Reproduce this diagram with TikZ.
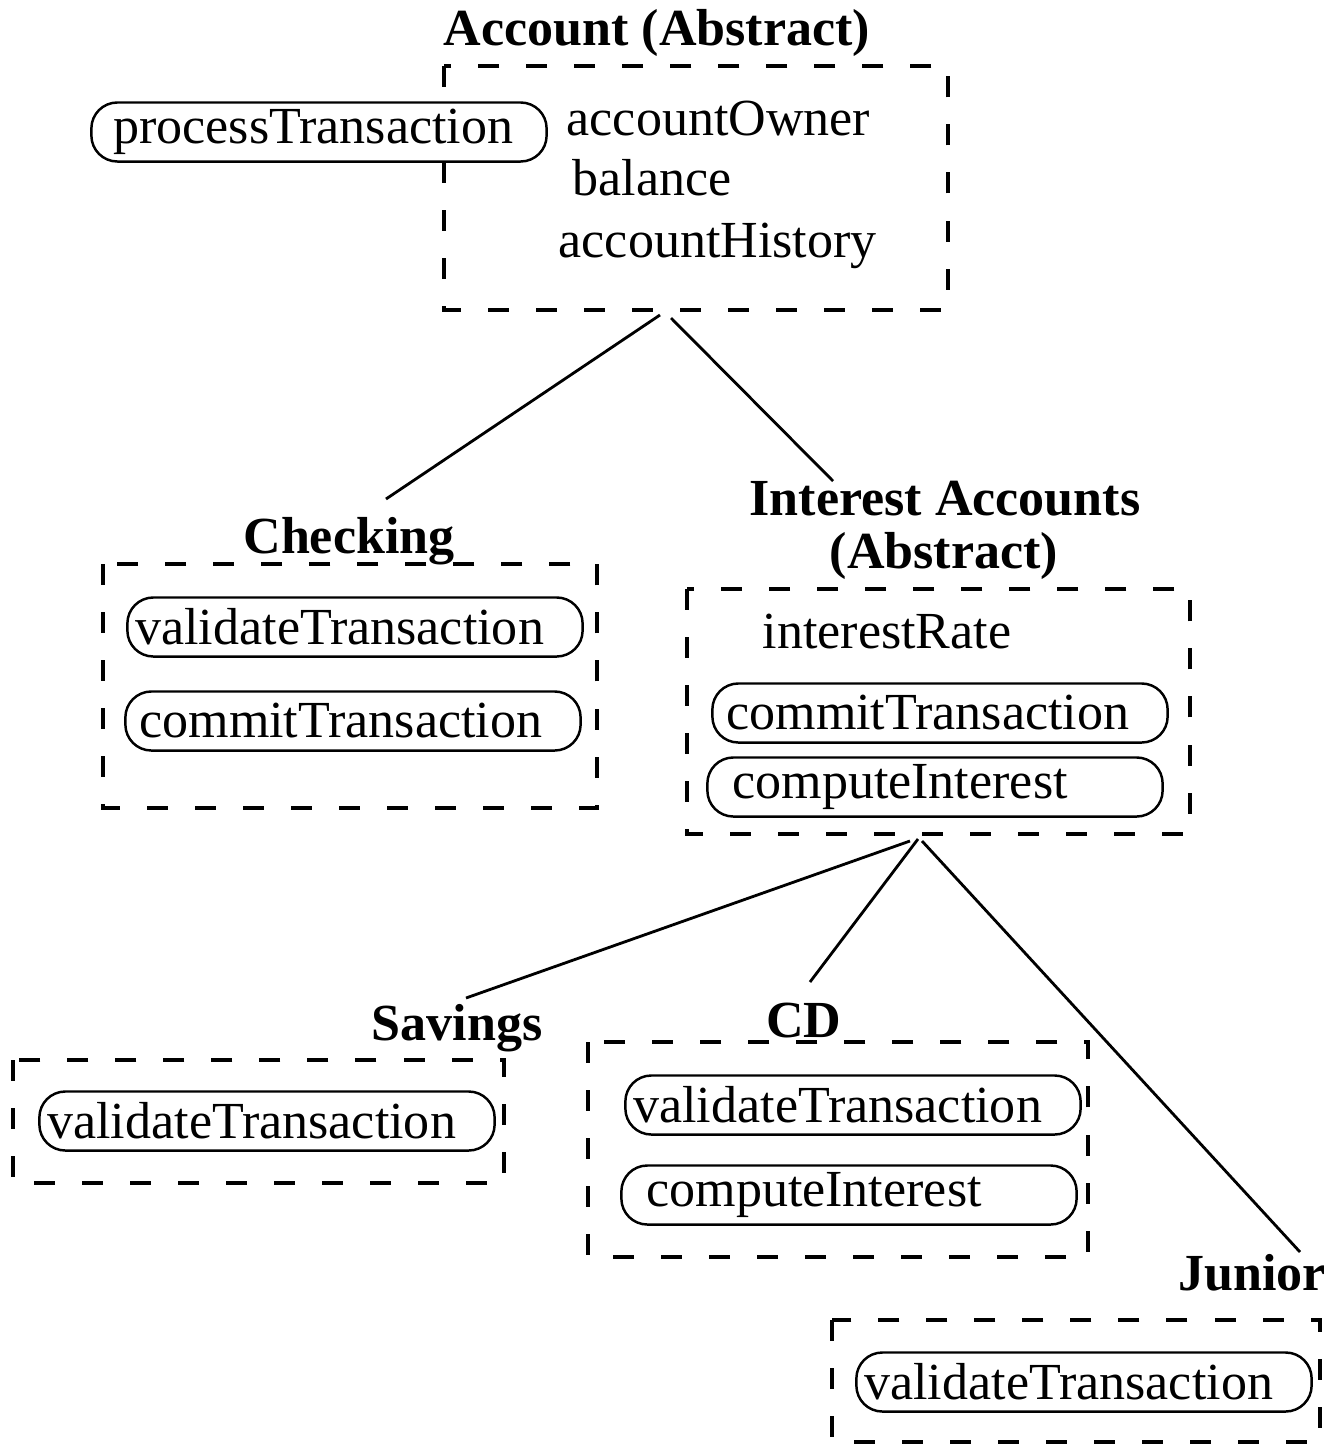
\documentclass[tikz,border=0pt]{standalone}
\usepackage{fontspec}
\setmainfont{Liberation Serif}
\usepackage{tikz}

\tikzset{
	dashbox/.style={line width=1.1pt, dash pattern=on 0.21cm off 0.27cm},
	method/.style={draw, fill=white, line width=0.7pt, rounded corners=0.26cm, minimum height=0.59cm, text width=4.27cm, inner xsep=0.14cm, inner ysep=0pt, align=left, font=\fontsize{14.8}{17}\selectfont},
	field/.style={anchor=base west, inner sep=0pt, font=\fontsize{14.8}{17}\selectfont},
	title/.style={anchor=base, inner sep=0pt, font=\fontsize{14.8}{17}\selectfont\bfseries},
	link/.style={line width=0.8pt}
}

\begin{document}
\begin{tikzpicture}[x=0.01cm, y=-0.01cm]
	\useasboundingbox (0,0) rectangle (1340,1445);
	%\draw [help lines, step=100] (0,0) grid (1340,1445);
	
	%ACCOUNT
	%box
	\draw[dashbox] (444,66) rectangle (948,310);
	\node[title] (acctitle) at (657,45) {Account (Abstract)};
	\node[method] (process) at (319,132) {\hspace*{0.08cm}processTransaction};
	\node[field] (owner) at (566,135) {accountOwner};
	\node[field] (balance) at (572,195) {balance};
	\node[field] (history) at (558,257) {accountHistory};
	
	
	%CHECKING
	%box
	\draw[dashbox] (103,564) rectangle (597,808);
	\node[title] (chktitle) at (349,553) {Checking};
	\node[method] (chkvalidate) at (355,627) {\hspace*{-0.06cm}validateTransaction};
	\node[method] (chkcommit) at (353,721) {commitTransaction};
	
	
	%INTEREST ACCOUNTS
	%box
	\draw[dashbox] (687,589) rectangle (1190,834);
	\node[title] (inttitle) at (945,515) {Interest Accounts};
	\node[title] (inttitleb) at (944,568) {(Abstract)};
	\node[field] (rate) at (762,648) {interestRate};
	\node[method] (intcommit) at (940,713) {commitTransaction};
	\node[method] (intcompute) at (935,787) {\hspace*{0.11cm}computeInterest};
	
	
	%SAVINGS
	%box
	\draw[dashbox] (13,1060) rectangle (504,1183);
	\node[title] (savtitle) at (457,1040) {Savings};
	\node[method] (savvalidate) at (267,1121) {\hspace*{-0.06cm}validateTransaction};
	
	
	%CD
	%box
	\draw[dashbox] (588,1042) rectangle (1088,1257);
	\node[title] (cdtitle) at (804,1037) {CD};
	\node[method] (cdvalidate) at (853,1105) {\hspace*{-0.06cm}validateTransaction};
	\node[method] (cdcompute) at (849,1195) {\hspace*{0.11cm}computeInterest};
	
	
	%JUNIOR
	%box
	\draw[dashbox] (832,1320) rectangle (1320,1442);
	\node[title] (juntitle) at (1252,1290) {Junior};
	\node[method] (junvalidate) at (1084,1382) {\hspace*{-0.06cm}validateTransaction};
	
	
	%LINKS
	%points
	\coordinate (accl) at (660,315);
	\coordinate (accr) at (671,318);
	\coordinate (chkin) at (386,499);
	\coordinate (intin) at (833,481);
	\coordinate (intl) at (910,841);
	\coordinate (intm) at (918,839);
	\coordinate (intr) at (922,841);
	\coordinate (savin) at (466,998);
	\coordinate (cdin) at (810,982);
	\coordinate (junin) at (1300,1252);
	%lines
	\draw[link] (accl) -- (chkin);
	\draw[link] (accr) -- (intin);
	\draw[link] (intl) -- (savin);
	\draw[link] (intm) -- (cdin);
	\draw[link] (intr) -- (junin);
	
\end{tikzpicture}
\end{document}
